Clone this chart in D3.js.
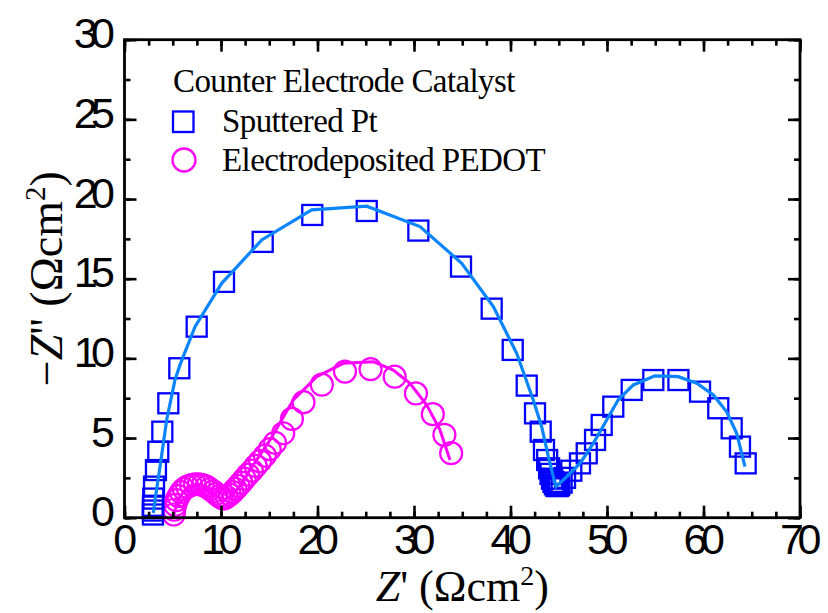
<!DOCTYPE html>
<html>
<head>
<meta charset="utf-8">
<script src="https://cdn.jsdelivr.net/npm/d3@7"></script>
<style>
  body { margin: 0; background: #fff; }
  svg { display: block; }
</style>
</head>
<body>
<script>
// sputtered Pt, measured points [Z', -Z'']
const ptData = [
  [2.95, 0.2], [2.95, 0.45], [2.95, 0.75], [2.98, 1.2], [3.06, 1.95], [3.26, 2.99],
  [3.5, 4.14], [3.92, 5.4], [4.54, 7.18], [5.68, 9.38], [7.48, 11.99], [10.31, 14.8],
  [14.32, 17.31], [19.46, 19.0], [25.1, 19.25], [30.45, 18.02], [34.87, 15.76],
  [38.05, 13.12], [40.23, 10.53], [41.68, 8.29], [42.54, 6.55], [43.13, 5.4],
  [43.47, 4.25], [43.8, 3.62], [44.0, 3.1], [44.15, 2.75], [44.3, 2.45], [44.45, 2.25],
  [44.6, 2.1], [44.75, 2.0], [44.9, 1.98], [45.05, 2.05], [45.3, 2.2], [45.65, 2.5],
  [46.3, 2.95], [47.2, 3.41], [47.9, 4.04], [48.76, 4.88], [49.45, 5.82], [50.65, 6.97],
  [52.56, 8.02], [54.8, 8.64], [57.4, 8.64], [59.64, 7.91], [61.53, 6.87], [62.92, 5.61],
  [63.78, 4.46], [64.37, 3.41]
];

// Pt fitted curve
const ptFit = [
  [2.98, 0.3], [3.32, 1.74], [3.68, 3.2], [4.37, 6.13], [5.23, 8.64], [5.75, 9.59],
  [7.31, 11.99], [10.07, 14.71], [14.22, 17.43], [19.4, 19.32], [25.1, 19.55],
  [30.62, 18.27], [34.94, 15.97], [38.22, 13.25], [40.64, 10.32], [42.36, 7.39],
  [43.23, 5.71], [43.92, 3.83], [44.44, 2.57], [44.72, 1.95], [45.82, 2.57], [47.2, 3.41],
  [48.58, 4.67], [49.97, 6.13], [51.17, 7.4], [52.73, 8.33], [54.97, 8.9], [57.39, 8.85],
  [59.3, 8.44], [61.02, 7.7], [62.4, 6.65], [63.44, 5.3], [64.3, 3.2]
];

// electrodeposited PEDOT, measured points
const pedotData = [
  [5.1, 0.2], [5.15, 0.5], [5.25, 0.8], [5.4, 1.1], [5.6, 1.35], [5.85, 1.6], [6.15, 1.8],
  [6.5, 1.95], [6.9, 2.05], [7.3, 2.1], [7.7, 2.1], [8.1, 2.05], [8.5, 1.95], [8.85, 1.8],
  [9.2, 1.65], [9.5, 1.5], [9.8, 1.35], [10.05, 1.25], [10.3, 1.2], [10.6, 1.3],
  [10.9, 1.45], [11.2, 1.6], [11.5, 1.8], [11.8, 2.0], [12.1, 2.2], [12.45, 2.45],
  [12.8, 2.7], [13.2, 2.95], [13.6, 3.25], [14.05, 3.55], [14.55, 3.9], [15.05, 4.3],
  [15.6, 4.7], [16.45, 5.3], [17.35, 6.2], [18.55, 7.25], [20.45, 8.35], [22.85, 9.17],
  [25.5, 9.32], [28.0, 8.85], [30.2, 7.8], [31.95, 6.5], [33.15, 5.2], [33.85, 4.05]
];

// PEDOT fitted curve
const pedotFit = [
  [5.1, 0.2], [5.6, 1.2], [6.5, 1.9], [7.5, 2.0], [8.5, 1.8], [9.5, 1.35], [10.3, 1.1],
  [11.2, 1.4], [12.2, 2.2], [13.0, 3.0], [15.08, 4.88], [17.49, 7.39], [19.92, 8.85],
  [22.67, 9.69], [25.78, 9.79], [27.85, 9.27], [29.58, 8.44], [31.32, 7.07],
  [32.69, 5.51], [33.73, 3.62]
];

const xTicks = [0, 10, 20, 30, 40, 50, 60, 70];
const yTicks = [0, 5, 10, 15, 20, 25, 30];
const xMinor = d3.range(0, 70.01, 2.5);
const yMinor = d3.range(0, 30.01, 2.5);

const legendTitle = 'Counter Electrode Catalyst';
const seriesNames = ['Sputtered Pt', 'Electrodeposited PEDOT'];

const w = 828, h = 613;
const pL = 124.5, pR = 800, pT = 39.7, pB = 517.7;

const x = d3.scaleLinear().domain([0, 70]).range([pL, pR]);
const y = d3.scaleLinear().domain([0, 30]).range([pB, pT]);

const svg = d3.select('body').append('svg')
  .attr('width', w).attr('height', h);

const line = d3.line().x(d => x(d[0])).y(d => y(d[1]));

// data
svg.append('g').selectAll('circle')
  .data(pedotData).enter().append('circle')
  .attr('cx', d => x(d[0])).attr('cy', d => y(d[1])).attr('r', 11)
  .attr('fill', 'none').attr('stroke', '#ff00ff').attr('stroke-width', 2.2);

svg.append('g').selectAll('rect')
  .data(ptData).enter().append('rect')
  .attr('x', d => x(d[0]) - 10).attr('y', d => y(d[1]) - 10)
  .attr('width', 20).attr('height', 20)
  .attr('fill', 'none').attr('stroke', '#0000ff').attr('stroke-width', 2.3);

svg.append('path').datum(pedotFit)
  .attr('d', line).attr('fill', 'none')
  .attr('stroke', '#ff00ff').attr('stroke-width', 3);

svg.append('path').datum(ptFit)
  .attr('d', line).attr('fill', 'none')
  .attr('stroke', '#0a84ff').attr('stroke-width', 3.2);

// axes: ticks point inwards
function axisStyle(g) {
  g.select('.domain').remove();
  g.selectAll('.tick line').attr('stroke', '#000').attr('stroke-width', 2.6);
  g.selectAll('.tick text')
    .attr('fill', '#000')
    .style('font-family', '"Liberation Sans", Arial, sans-serif')
    .style('font-size', '43px')
    .style('letter-spacing', '-6.5px');
}

svg.append('g').attr('transform', `translate(0,${pB})`)
  .call(d3.axisBottom(x).tickValues(xMinor).tickSize(-6).tickFormat(''))
  .call(axisStyle);
svg.append('g').attr('transform', `translate(0,${pB})`)
  .call(d3.axisBottom(x).tickValues(xTicks).tickSize(-12).tickPadding(4))
  .call(axisStyle)
  .selectAll('.tick text').attr('dx', '-3px').attr('dy', '0.76em');

svg.append('g').attr('transform', `translate(0,${pT})`)
  .call(d3.axisTop(x).tickValues(xMinor).tickSize(-6).tickFormat(''))
  .call(axisStyle);
svg.append('g').attr('transform', `translate(0,${pT})`)
  .call(d3.axisTop(x).tickValues(xTicks).tickSize(-12).tickFormat(''))
  .call(axisStyle);

svg.append('g').attr('transform', `translate(${pL},0)`)
  .call(d3.axisLeft(y).tickValues(yMinor).tickSize(-6).tickFormat(''))
  .call(axisStyle);
svg.append('g').attr('transform', `translate(${pL},0)`)
  .call(d3.axisLeft(y).tickValues(yTicks).tickSize(-12).tickPadding(8))
  .call(axisStyle)
  .selectAll('.tick text').attr('dx', '-8px').attr('dy', '0.19em');

svg.append('g').attr('transform', `translate(${pR},0)`)
  .call(d3.axisRight(y).tickValues(yMinor).tickSize(-6).tickFormat(''))
  .call(axisStyle);
svg.append('g').attr('transform', `translate(${pR},0)`)
  .call(d3.axisRight(y).tickValues(yTicks).tickSize(-12).tickFormat(''))
  .call(axisStyle);

svg.append('rect')
  .attr('x', pL).attr('y', pT)
  .attr('width', pR - pL).attr('height', pB - pT)
  .attr('fill', 'none').attr('stroke', '#000').attr('stroke-width', 2.8);

// axis titles
const serif = '"Liberation Serif", "Times New Roman", serif';

const xt = svg.append('text')
  .attr('x', (pL + pR) / 2).attr('y', 601)
  .attr('text-anchor', 'middle')
  .style('font-family', serif).style('font-size', '44px');
xt.append('tspan').style('font-style', 'italic').text('Z');
xt.append('tspan').text('\' (\u03a9cm');
xt.append('tspan').attr('dy', '-16').style('font-size', '28px').text('2');
xt.append('tspan').attr('dy', '16').text(')');

const yt = svg.append('text')
  .attr('transform', `translate(62,${(pT + pB) / 2}) rotate(-90)`)
  .attr('text-anchor', 'middle')
  .style('font-family', serif).style('font-size', '46px');
yt.append('tspan').text('\u2212');
yt.append('tspan').style('font-style', 'italic').text('Z');
yt.append('tspan').text('\'\' (\u03a9cm');
yt.append('tspan').attr('dy', '-17').style('font-size', '29px').text('2');
yt.append('tspan').attr('dy', '17').text(')');

// legend
const lg = svg.append('g')
  .style('font-family', serif).style('font-size', '33px')
  .style('letter-spacing', '-0.6px');

lg.append('text').attr('x', 173).attr('y', 92).text(legendTitle);

lg.append('rect')
  .attr('x', 173).attr('y', 111.5).attr('width', 20.5).attr('height', 20.5)
  .attr('fill', 'none').attr('stroke', '#0000ff').attr('stroke-width', 2.3);
lg.append('text').attr('x', 222).attr('y', 132).text(seriesNames[0]);

lg.append('circle')
  .attr('cx', 184).attr('cy', 160).attr('r', 11.5)
  .attr('fill', 'none').attr('stroke', '#ff00ff').attr('stroke-width', 2.3);
lg.append('text').attr('x', 222).attr('y', 171).text(seriesNames[1]);
</script>
</body>
</html>
